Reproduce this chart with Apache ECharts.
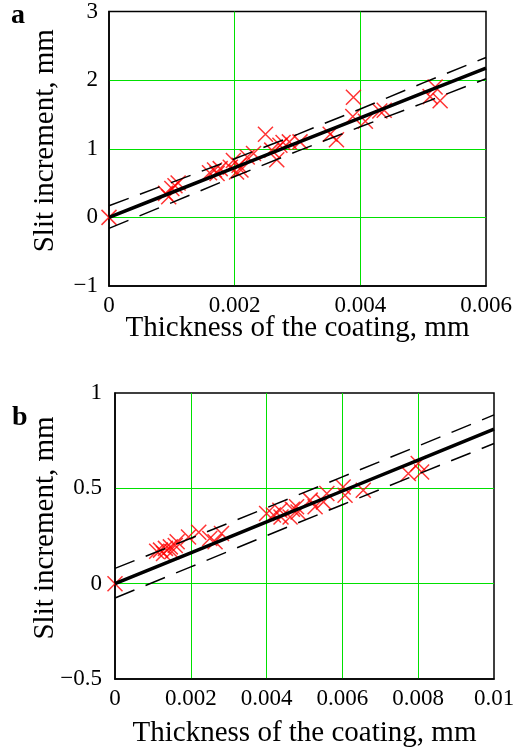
<!DOCTYPE html>
<html>
<head>
<meta charset="utf-8">
<script src="https://cdn.jsdelivr.net/npm/echarts@6/dist/echarts.min.js"></script>
<style>
  html, body { margin: 0; padding: 0; background: #fff; }
  #chart { width: 521px; height: 751px; }
</style>
</head>
<body>
<div id="chart"></div>
<script>
// panel a - measured points
const aThick = [0, 0.0009, 0.00095, 0.001, 0.00105, 0.0011,
  0.0016, 0.00168, 0.00172, 0.00177,
  0.00193, 0.00198, 0.00203, 0.00207, 0.0021, 0.0022, 0.0023,
  0.00249, 0.00259, 0.00267, 0.00272, 0.00277, 0.00287, 0.00304,
  0.00352, 0.00362,
  0.00389, 0.00388, 0.00408, 0.00431, 0.00438,
  0.00511, 0.00519, 0.00527];
const aSlit = [0, 0.35, 0.30, 0.42, 0.46, 0.50,
  0.65, 0.69, 0.64, 0.71,
  0.73, 0.83, 0.66, 0.76, 0.69, 0.88, 0.93,
  1.21, 0.98, 0.84, 1.05, 1.09, 1.10, 1.10,
  1.21, 1.13,
  1.75, 1.47, 1.40, 1.55, 1.56,
  1.76, 1.90, 1.70];
// panel a - fit and band
const aLineX = [0, 0.001, 0.002, 0.003, 0.004, 0.005, 0.006];
const aFit = [0, 0.3625, 0.725, 1.0875, 1.45, 1.8125, 2.175];
const aUpper = [0.17, 0.51, 0.855, 1.21, 1.58, 1.96, 2.33];
const aLower = [-0.16, 0.215, 0.595, 0.965, 1.32, 1.665, 2.02];

// panel b - measured points
const bThick = [0, 0.0011, 0.0012, 0.00128, 0.00133, 0.00146, 0.0015, 0.00159, 0.00164,
  0.00194, 0.00221, 0.0025, 0.00264, 0.00281,
  0.004, 0.00418, 0.00435, 0.00438, 0.00462, 0.00468, 0.00479, 0.00483,
  0.00515, 0.00528, 0.0055, 0.00559, 0.00602, 0.00607, 0.00655,
  0.00774, 0.008, 0.00809];
const bSlit = [0, 0.17, 0.176, 0.158, 0.185, 0.193, 0.167, 0.2, 0.22,
  0.245, 0.27, 0.237, 0.22, 0.263,
  0.368, 0.36, 0.385, 0.35, 0.35, 0.39, 0.403, 0.376,
  0.438, 0.403, 0.429, 0.473, 0.507, 0.464, 0.49,
  0.578, 0.63, 0.586];
// panel b - fit and band
const bLineX = [0, 0.002, 0.004, 0.006, 0.008, 0.01];
const bFit = [0, 0.162, 0.324, 0.486, 0.648, 0.81];
const bUpper = [0.08, 0.238, 0.398, 0.56, 0.722, 0.885];
const bLower = [-0.075, 0.088, 0.252, 0.414, 0.575, 0.735];

const zip = (xs, ys) => xs.map((x, i) => [x, ys[i]]);
const FONT = 'Liberation Serif';
const cross = 'path://M0,0L10,10M10,0L0,10';

const tickFmt = (v) => String(+v.toFixed(4)).replace('-', '\u2212');

const gridLine = { show: true, showMinLine: false, showMaxLine: false, lineStyle: { color: '#00e000', width: 1 } };

function xAxisOf(idx, max, gap) {
  return {
    gridIndex: idx, type: 'value', min: 0, max: max, interval: 0.002,
    axisLine: { show: true, onZero: false, lineStyle: { color: '#000', width: 1.5 } },
    axisTick: { show: false },
    splitLine: gridLine,
    axisLabel: { color: '#000', fontSize: 23, fontFamily: FONT, margin: 8, formatter: tickFmt },
    name: 'Thickness of the coating, mm', nameLocation: 'middle', nameGap: gap,
    nameMoveOverlap: false,
    nameTextStyle: { color: '#000', fontSize: 29, fontFamily: FONT }
  };
}
function yAxisOf(idx, min, max, step, margin, gap) {
  return {
    gridIndex: idx, type: 'value', min: min, max: max, interval: step,
    axisLine: { show: true, onZero: false, lineStyle: { color: '#000', width: 1.5 } },
    axisTick: { show: false },
    splitLine: gridLine,
    axisLabel: { color: '#000', fontSize: 23, fontFamily: FONT, margin: margin, formatter: tickFmt },
    name: 'Slit increment, mm', nameLocation: 'middle', nameGap: gap,
    nameMoveOverlap: false,
    nameTextStyle: { color: '#000', fontSize: 29, fontFamily: FONT, padding: [0, 0, 0, 16] }
  };
}
function pointsOf(idx, data) {
  return {
    type: 'scatter', xAxisIndex: idx, yAxisIndex: idx, data: data,
    symbol: cross, symbolSize: 15,
    itemStyle: { color: 'transparent', borderColor: '#ff0000', borderWidth: 1.5 },
    z: 3
  };
}
function lineOf(idx, data, width, dashed) {
  return {
    type: 'line', xAxisIndex: idx, yAxisIndex: idx, data: data,
    symbol: 'none', silent: true,
    lineStyle: { color: '#000', width: width, type: dashed ? [21, 12] : 'solid' },
    z: 4
  };
}

const chart = echarts.init(document.getElementById('chart'));
chart.setOption({
  animation: false,
  backgroundColor: '#fff',
  textStyle: { fontFamily: FONT },
  grid: [
    { left: 109, top: 11, width: 377, height: 275, show: true, borderColor: '#000', borderWidth: 1.5 },
    { left: 115, top: 393, width: 379, height: 286, show: true, borderColor: '#000', borderWidth: 1.5 }
  ],
  xAxis: [xAxisOf(0, 0.006, 28), xAxisOf(1, 0.01, 40)],
  yAxis: [yAxisOf(0, -1, 3, 1, 11, 49), yAxisOf(1, -0.5, 1, 0.5, 13, 55)],
  graphic: [
    { type: 'text', left: 11, top: 2, style: { text: 'a', font: 'bold 28px "Liberation Serif"', fill: '#000' } },
    { type: 'text', left: 12, top: 404, style: { text: 'b', font: 'bold 28px "Liberation Serif"', fill: '#000' } }
  ],
  series: [
    pointsOf(0, zip(aThick, aSlit)),
    lineOf(0, zip(aLineX, aFit), 3.5, false),
    lineOf(0, zip(aLineX, aUpper), 1.5, true),
    lineOf(0, zip(aLineX, aLower), 1.5, true),
    pointsOf(1, zip(bThick, bSlit)),
    lineOf(1, zip(bLineX, bFit), 3.5, false),
    lineOf(1, zip(bLineX, bUpper), 1.5, true),
    lineOf(1, zip(bLineX, bLower), 1.5, true)
  ]
});
</script>
</body>
</html>
